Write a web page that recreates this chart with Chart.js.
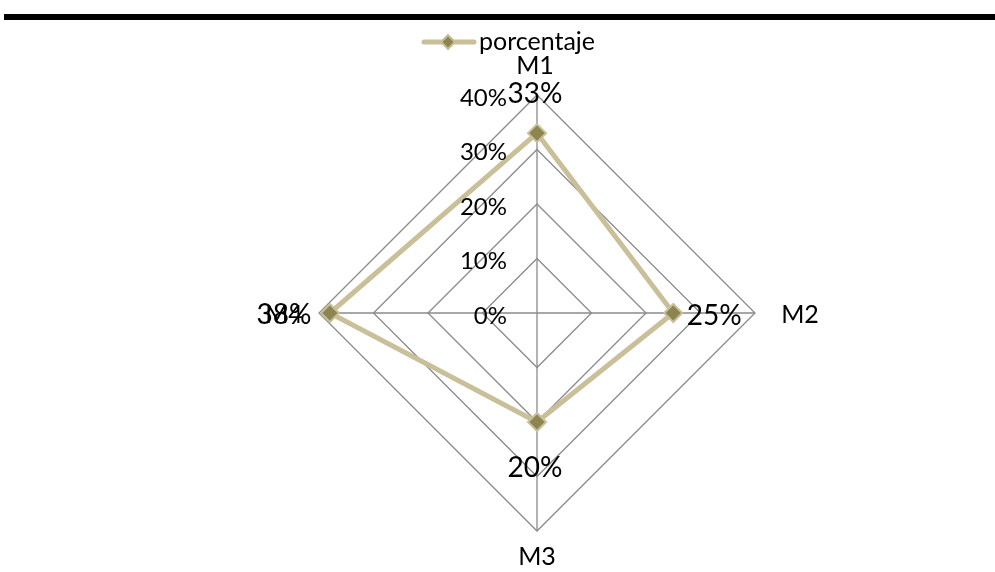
<!DOCTYPE html>
<html>
<head>
<meta charset="utf-8">
<script src="https://cdn.jsdelivr.net/npm/chart.js@4/dist/chart.umd.min.js"></script>
<style>
  html, body { margin: 0; padding: 0; background: #ffffff; }
  #wrap { width: 995px; height: 572px; }
</style>
</head>
<body>
<div id="wrap"><canvas id="c" width="995" height="572"></canvas></div>
<script>
// Categories and values (percent)
const categories = ['M1', 'M2', 'M3', 'M4'];
const porcentaje = [33, 25, 20, 38];
const tickValues = [0, 10, 20, 30, 40];
const seriesName = 'porcentaje';

const FONT = 'Lato, "Open Sans", sans-serif';
const LINE_COLOR = '#c9c09a';
const MARK_COLOR = '#8c8552';
const GRID_COLOR = '#8a8a8a';

function diamond(ctx, x, y, r) {
  ctx.save();
  ctx.beginPath();
  ctx.moveTo(x, y - r);
  ctx.lineTo(x + r, y);
  ctx.lineTo(x, y + r);
  ctx.lineTo(x - r, y);
  ctx.closePath();
  ctx.fillStyle = MARK_COLOR;
  ctx.fill();
  ctx.lineWidth = 2;
  ctx.strokeStyle = LINE_COLOR;
  ctx.stroke();
  ctx.restore();
}

// Header rule, legend, tick labels, axis names and value labels
const decorations = {
  id: 'decorations',
  beforeDraw(chart) {
    const ctx = chart.ctx;
    ctx.save();
    ctx.fillStyle = '#000000';
    ctx.fillRect(4, 14, 991, 6);
    ctx.restore();
  },
  afterDraw(chart) {
    const ctx = chart.ctx;
    const r = chart.scales.r;
    ctx.save();

    // legend
    ctx.strokeStyle = LINE_COLOR;
    ctx.lineWidth = 5;
    ctx.lineCap = 'round';
    ctx.beginPath();
    ctx.moveTo(424, 42);
    ctx.lineTo(474, 42);
    ctx.stroke();
    diamond(ctx, 448, 42, 7);
    ctx.fillStyle = '#000000';
    ctx.font = '25px ' + FONT;
    ctx.textAlign = 'left';
    ctx.textBaseline = 'middle';
    ctx.fillText(seriesName, 479, 42);

    // tick labels, right-aligned left of the vertical axis
    ctx.font = '24px ' + FONT;
    ctx.textAlign = 'right';
    tickValues.forEach(v => {
      const d = r.getDistanceFromCenterForValue(v);
      ctx.fillText(v + '%', r.xCenter - 30, r.yCenter - d + 3);
    });

    // axis names outside the outer ring
    ctx.font = '25px ' + FONT;
    ctx.textAlign = 'center';
    const nameOffsets = [[-2, -29], [45, 2], [0, 26], [-35, 2]];
    categories.forEach((c, i) => {
      const p = r.getPointPositionForValue(i, 40);
      ctx.fillText(c, p.x + nameOffsets[i][0], p.y + nameOffsets[i][1]);
    });

    // value labels next to each point
    ctx.font = '28px ' + FONT;
    const valOffsets = [[-2, -39], [41, 3], [-2, 46], [-46, 2]];
    porcentaje.forEach((v, i) => {
      const p = r.getPointPositionForValue(i, v);
      ctx.fillText(v + '%', p.x + valOffsets[i][0], p.y + valOffsets[i][1]);
    });
    ctx.restore();
  }
};

new Chart(document.getElementById('c'), {
  type: 'radar',
  data: {
    labels: categories,
    datasets: [{
      label: seriesName,
      data: porcentaje,
      borderColor: LINE_COLOR,
      borderWidth: 5,
      fill: false,
      tension: 0,
      pointStyle: 'rectRot',
      pointRadius: 9,
      pointHoverRadius: 9,
      pointBackgroundColor: MARK_COLOR,
      pointBorderColor: LINE_COLOR,
      pointBorderWidth: 2
    }]
  },
  options: {
    responsive: false,
    animation: false,
    events: [],
    layout: { padding: { left: 319, right: 240, top: 95, bottom: 41 } },
    plugins: { legend: { display: false }, tooltip: { enabled: false } },
    scales: {
      r: {
        min: 0,
        max: 40,
        ticks: { display: false, stepSize: 10 },
        pointLabels: { display: false },
        grid: { color: GRID_COLOR, lineWidth: 1.3, circular: false },
        angleLines: { color: GRID_COLOR, lineWidth: 1.3 }
      }
    }
  },
  plugins: [decorations]
});
</script>
</body>
</html>
